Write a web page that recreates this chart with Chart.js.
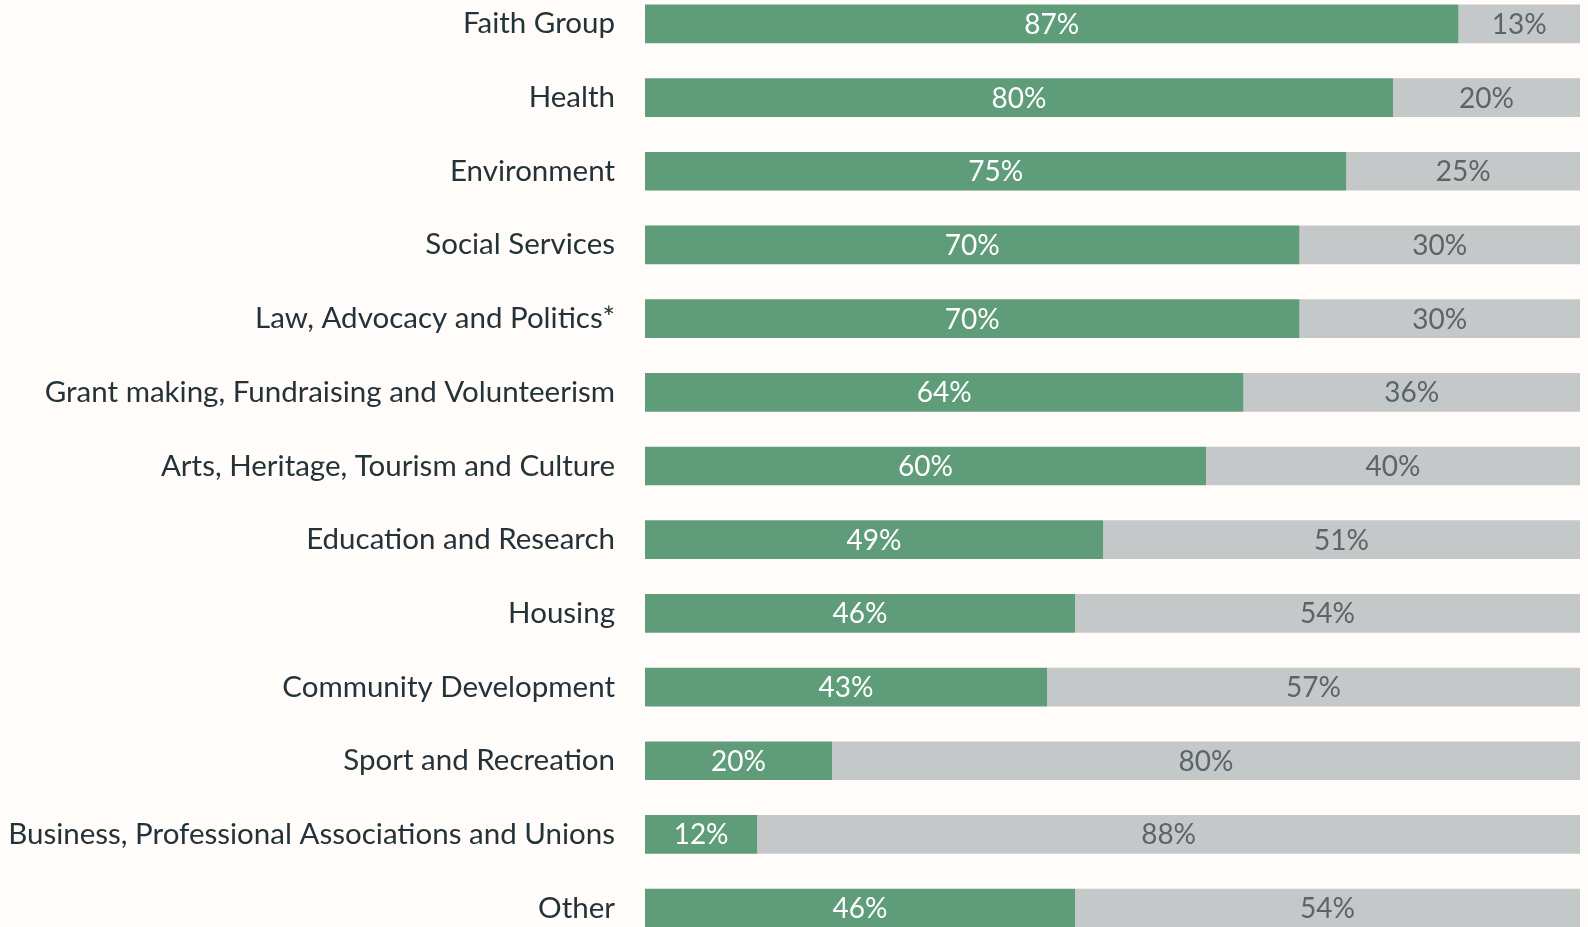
<!DOCTYPE html>
<html>
<head>
<meta charset="utf-8">
<script src="https://cdn.jsdelivr.net/npm/chart.js@4.4.1/dist/chart.umd.min.js"></script>
<style>
    html, body { margin: 0; padding: 0; background: #fffcf9; overflow: hidden; }
    #wrap { position: absolute; left: 0; top: -13px; width: 1588px; height: 958px; }
</style>
</head>
<body>
<div id="wrap"><canvas id="chart"></canvas></div>
<script>
// Sector categories
const categories = [
    "Faith Group",
    "Health",
    "Environment",
    "Social Services",
    "Law, Advocacy and Politics*",
    "Grant making, Fundraising and Volunteerism",
    "Arts, Heritage, Tourism and Culture",
    "Education and Research",
    "Housing",
    "Community Development",
    "Sport and Recreation",
    "Business, Professional Associations and Unions",
    "Other"
];

// Share in each sector (percent)
const yesValues = [87, 80, 75, 70, 70, 64, 60, 49, 46, 43, 20, 12, 46];
const noValues = [13, 20, 25, 30, 30, 36, 40, 51, 54, 57, 80, 88, 54];

const FONT = "Lato, 'Open Sans', sans-serif";

// draws the percentage inside each bar segment
const barLabels = {
    id: "barLabels",
    afterDatasetsDraw(chart) {
        const ctx = chart.ctx;
        ctx.save();
        ctx.font = "28px " + FONT;
        ctx.textAlign = "center";
        ctx.textBaseline = "middle";
        chart.data.datasets.forEach(function (ds, i) {
            chart.getDatasetMeta(i).data.forEach(function (bar, j) {
                const p = bar.getProps(["x", "y", "base"], true);
                ctx.fillStyle = ds.labelColor;
                ctx.fillText(ds.data[j] + "%", (p.x + p.base) / 2, p.y + 1);
            });
        });
        ctx.restore();
    }
};

let chart = new Chart(document.getElementById("chart"), {
    type: "bar",
    data: {
        labels: categories,
        datasets: [{
            data: yesValues,
            backgroundColor: "#5f9c7a",
            labelColor: "#ffffff",
            categoryPercentage: 0.525,
            barPercentage: 1
        }, {
            data: noValues,
            backgroundColor: "#c5c8c8",
            labelColor: "#5b6467",
            categoryPercentage: 0.525,
            barPercentage: 1
        }]
    },
    options: {
        indexAxis: "y",
        responsive: true,
        maintainAspectRatio: false,
        animation: false,
        layout: { padding: { left: 0, right: 8, top: 0, bottom: 0 } },
        plugins: { legend: { display: false }, tooltip: { enabled: false } },
        scales: {
            x: {
                stacked: true,
                min: 0,
                max: 100,
                display: false
            },
            y: {
                stacked: true,
                grid: { display: false, drawTicks: false },
                border: { display: false },
                ticks: {
                    color: "#24333a",
                    padding: 30,
                    font: { family: FONT, size: 29.5 }
                },
                afterFit(scale) {
                    scale.width = 645;
                    scale.paddingTop = 0;
                    scale.paddingBottom = 0;
                }
            }
        }
    },
    plugins: [barLabels]
});
</script>
</body>
</html>
